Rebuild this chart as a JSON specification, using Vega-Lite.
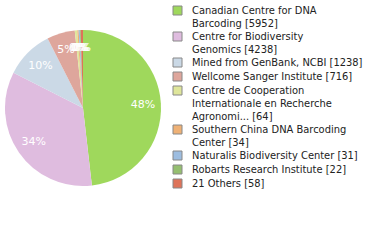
{
  "$schema": "https://vega.github.io/schema/vega-lite/v6.json",
  "width": 156,
  "height": 156,
  "autosize": "none",
  "padding": {"left": 5, "top": 30, "right": 219, "bottom": 54},
  "background": "white",
  "data": {
    "values": [
      {"i": 1, "label": "Canadian Centre for DNA|Barcoding [5952]", "count": 5952},
      {"i": 2, "label": "Centre for Biodiversity|Genomics [4238]", "count": 4238},
      {"i": 3, "label": "Mined from GenBank, NCBI [1238]", "count": 1238},
      {"i": 4, "label": "Wellcome Sanger Institute [716]", "count": 716},
      {"i": 5, "label": "Centre de Cooperation|Internationale en Recherche|Agronomi... [64]", "count": 64},
      {"i": 6, "label": "Southern China DNA Barcoding|Center [34]", "count": 34},
      {"i": 7, "label": "Naturalis Biodiversity Center [31]", "count": 31},
      {"i": 8, "label": "Robarts Research Institute [22]", "count": 22},
      {"i": 9, "label": "21 Others [58]", "count": 58}
    ]
  },
  "transform": [
    {"joinaggregate": [{"op": "sum", "field": "count", "as": "total"}]},
    {"calculate": "floor(datum.count / datum.total * 100) + '%'", "as": "pct"}
  ],
  "encoding": {
    "theta": {"field": "count", "type": "quantitative", "stack": true},
    "order": {"field": "i", "type": "quantitative"}
  },
  "layer": [
    {
      "mark": {"type": "arc", "outerRadius": 78, "stroke": null},
      "encoding": {
        "color": {
          "field": "label",
          "type": "nominal",
          "sort": {"field": "i"},
          "scale": {
            "domain": [
              "Canadian Centre for DNA|Barcoding [5952]",
              "Centre for Biodiversity|Genomics [4238]",
              "Mined from GenBank, NCBI [1238]",
              "Wellcome Sanger Institute [716]",
              "Centre de Cooperation|Internationale en Recherche|Agronomi... [64]",
              "Southern China DNA Barcoding|Center [34]",
              "Naturalis Biodiversity Center [31]",
              "Robarts Research Institute [22]",
              "21 Others [58]"
            ],
            "range": ["#9fd85c", "#dfbcdf", "#cbd9e6", "#dea69c", "#dfe69b", "#efb175", "#9dbde0", "#95bf70", "#de7359"]
          },
          "legend": {
            "title": null,
            "orient": "none",
            "legendX": 167,
            "legendY": -25,
            "symbolType": "square",
            "symbolSize": 81,
            "symbolStrokeColor": "#888888",
            "symbolStrokeWidth": 1,
            "symbolOpacity": 1,
            "labelExpr": "split(datum.label, '|')",
            "labelFont": "DejaVu Sans Condensed",
            "labelFontSize": 11,
            "labelLineHeight": 12.5,
            "labelColor": "#222222",
            "labelLimit": 200,
            "labelOffset": 9,
            "rowPadding": 1
          }
        }
      }
    },
    {
      "mark": {"type": "text", "radius": 60, "font": "DejaVu Sans", "fontSize": 11},
      "encoding": {
        "text": {"field": "pct"},
        "detail": {"field": "label"},
        "color": {"value": "white"}
      }
    }
  ]
}
